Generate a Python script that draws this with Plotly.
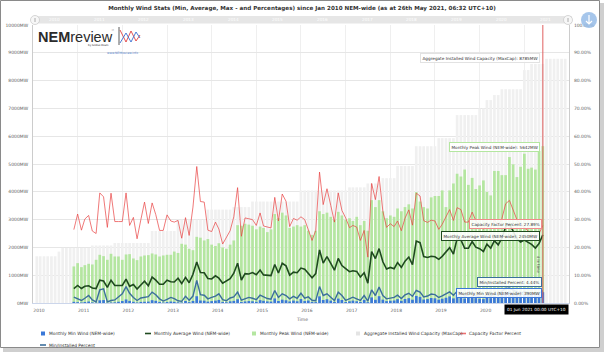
import pandas as pd
import plotly.graph_objects as go

# ---------------- data ----------------
# Monthly values; the chart stamps each month at the first day of the following month.
capacity_start = "2010-02-01"   # Jan 2010 (month-end stamp)
capacity_mw = [
    1680, 1680, 1680, 1680, 1680, 1680, 1850, 1980, 1980, 1980, 1980, 1980, 1980, 1980, 1980,
    2070, 2070, 2070, 2070, 2070, 2070,
    2160, 2160, 2160, 2160, 2160, 2160, 2160, 2160, 2160, 2160,
    2590, 2590, 2590, 2590, 2590, 2590, 2590,
    3000, 3000, 3000, 3000, 3000, 3000, 3000, 3000,
    3360, 3360, 3360, 3360, 3360, 3360, 3360,
    3450, 3450, 3450, 3450, 3450,
    3650, 3650, 3650, 3650, 3650, 3650, 3650, 3650, 3650, 3650, 3650, 3650, 3650,
    4050, 4050, 4050, 4050, 4050, 4050, 4050, 4050, 4050, 4050, 4050, 4050, 4050,
    4160, 4160, 4160, 4160, 4160,
    4300, 4300, 4300, 4300,
    4490, 4490, 4490, 4490,
    4930, 4930, 4930, 4930, 4930,
    5640, 5640, 5640, 5640, 5640, 5640,
    5930, 5930, 5930, 5930, 5930,
    6760, 6760, 6760, 6760, 6760, 6760,
    7000, 7000, 7300, 7300, 7480, 7480,
    7690, 7690, 7690, 7690, 7690, 7690,
    8380, 8380, 8600, 8600, 8600, 8600,
    8785, 8785, 8785, 8785, 8785, 8785,
]

stats_start = "2010-12-01"      # Nov 2010 (month-end stamp) .. May 2021
peak_mw = [
    1315, 1434, 1290, 1362, 1410, 1386, 1554, 1734, 1686, 1554,
    1770, 1674, 1674, 1554, 1746, 1758, 1602, 1542, 1674, 1710,
    1722, 1782, 1746, 1674, 1710, 1734, 1734, 1850, 1800, 2130,
    2100, 1950, 1900, 2380, 2350, 2250, 2300, 2100, 2050, 2150,
    2000, 1950, 2100, 2250, 2800, 2780, 2850, 2820, 2780, 2650,
    2750, 2700, 2550, 2650, 3200, 3050, 3250, 3150, 2700, 2750,
    2800, 2750, 2800, 2600, 2450, 2600, 3300, 3200, 3250, 3100,
    3000, 3280, 3150, 3000, 3050, 2950, 3100, 2800, 2950, 2600,
    3700, 3450, 3700, 3300, 3050, 3150, 3100, 3400, 3300, 3450,
    3550, 3400, 3990, 3650, 3450, 3400, 3800, 3850, 3850, 4050,
    3450, 4050, 4300, 4650, 4550, 4800, 4250, 4500, 4100, 4230,
    4410, 4000, 3870, 4750, 4750, 4600, 4600, 5250, 4990, 4530,
    4900, 5370, 4830, 4870, 4800, 5470, 5642,
]
avg_mw = [
    520, 630, 520, 600, 620, 540, 520, 820, 790, 560,
    820, 630, 630, 630, 855, 600, 665, 500, 648, 784,
    618, 932, 824, 676, 676, 821, 764, 754, 891, 699,
    921, 729, 1035, 1473, 1095, 1089, 880, 864, 978, 894,
    712, 790, 874, 1070, 1432, 828, 1056, 1045, 1095, 1018,
    1183, 1011, 996, 986, 1387, 1077, 1431, 1336, 1004, 1110,
    1088, 1256, 1215, 1061, 911, 1057, 1908, 1434, 1665, 1422,
    1179, 1604, 1349, 1239, 1127, 1161, 1136, 936, 1086, 710,
    1849, 1600, 1957, 1482, 1221, 1280, 1235, 1454, 1282, 1504,
    1652, 1380, 2228, 2171, 1669, 1636, 1681, 1664, 1571, 1678,
    1832, 1992, 1761, 2319, 2271, 1967, 1967, 2211, 2008, 1953,
    1855, 2117, 1971, 2244, 2094, 2330, 2745, 2838, 2584, 2307,
    2192, 2263, 2179, 2107, 1978, 2141, 2450,
]
min_mw = [
    42, 30, 18, 34, 53, 23, 8, 97, 106, 8,
    19, 24, 45, 71, 127, 76, 43, 19, 39, 45,
    50, 101, 78, 39, 18, 34, 52, 41, 24, 18,
    72, 30, 75, 243, 90, 84, 50, 67, 84, 111,
    40, 27, 60, 76, 135, 35, 55, 69, 62, 44,
    102, 80, 58, 51, 164, 73, 120, 99, 55, 88,
    62, 142, 69, 89, 41, 32, 239, 109, 134, 85,
    36, 158, 109, 36, 62, 87, 62, 37, 112, 30,
    202, 116, 245, 121, 67, 81, 90, 138, 79, 143,
    173, 118, 254, 220, 124, 141, 180, 169, 119, 154,
    190, 237, 166, 284, 243, 162, 196, 257, 176, 154,
    140, 219, 175, 254, 209, 320, 400, 410, 350, 300,
    260, 340, 300, 280, 270, 300, 390,
]
cf_pct = [
    26.4, 32.0, 26.2, 30.2, 31.5, 25.9, 25.0, 39.6, 38.2, 27.2,
    39.5, 29.3, 29.3, 29.3, 39.6, 27.9, 30.8, 23.1, 30.0, 36.3,
    28.6, 36.0, 31.8, 26.1, 26.1, 31.7, 29.5, 29.1, 29.7, 23.3,
    30.7, 24.3, 34.5, 49.1, 36.5, 36.3, 26.2, 25.7, 29.1, 26.6,
    21.2, 23.5, 26.0, 31.0, 41.5, 24.0, 30.6, 30.3, 30.0, 27.9,
    32.4, 27.7, 27.3, 27.0, 38.0, 29.5, 39.2, 36.6, 27.5, 30.4,
    29.8, 31.0, 30.0, 26.2, 22.5, 26.1, 47.1, 35.4, 41.1, 35.1,
    29.1, 39.6, 33.3, 30.6, 27.1, 27.9, 27.3, 22.5, 26.1, 16.5,
    43.0, 37.2, 45.5, 33.0, 27.2, 28.5, 27.5, 29.5, 26.0, 30.5,
    33.5, 28.0, 39.5, 38.5, 29.6, 29.0, 29.8, 29.5, 26.5, 28.3,
    30.9, 33.6, 29.7, 34.3, 33.6, 29.1, 29.1, 32.7, 29.7, 27.9,
    26.5, 29.0, 27.0, 30.0, 28.0, 30.3, 35.7, 36.9, 33.6, 30.0,
    28.5, 27.0, 26.0, 24.5, 23.0, 24.9, 27.89,
]
min_pct = [
    2.1, 1.5, 0.9, 1.7, 2.7, 1.1, 0.4, 4.7, 5.1, 0.4,
    0.9, 1.1, 2.1, 3.3, 5.9, 3.5, 2.0, 0.9, 1.8, 2.1,
    2.3, 3.9, 3.0, 1.5, 0.7, 1.3, 2.0, 1.6, 0.8, 0.6,
    2.4, 1.0, 2.5, 8.1, 3.0, 2.8, 1.5, 2.0, 2.5, 3.3,
    1.2, 0.8, 1.8, 2.2, 3.9, 1.0, 1.6, 2.0, 1.7, 1.2,
    2.8, 2.2, 1.6, 1.4, 4.5, 2.0, 3.3, 2.7, 1.5, 2.4,
    1.7, 3.5, 1.7, 2.2, 1.0, 0.8, 5.9, 2.7, 3.3, 2.1,
    0.9, 3.9, 2.7, 0.9, 1.5, 2.1, 1.5, 0.9, 2.7, 0.7,
    4.7, 2.7, 5.7, 2.7, 1.5, 1.8, 2.0, 2.8, 1.6, 2.9,
    3.5, 2.4, 4.5, 3.9, 2.2, 2.5, 3.2, 3.0, 2.0, 2.6,
    3.2, 4.0, 2.8, 4.2, 3.6, 2.4, 2.9, 3.8, 2.6, 2.2,
    2.0, 3.0, 2.4, 3.4, 2.8, 4.2, 5.2, 5.3, 4.6, 3.9,
    3.4, 4.1, 3.6, 3.3, 3.1, 3.5, 4.44,
]
year_labels = ["2010", "2011", "2012", "2013", "2014", "2015", "2016",
               "2017", "2018", "2019", "2020", "2021"]
mw_ticks = [0, 1000, 2000, 3000, 4000, 5000, 6000, 7000, 8000, 9000, 10000]
pct_ticks = [0, 10, 20, 30, 40, 50, 60, 70, 80, 90, 100]

series_names = ["Monthly Min Wind (NEM-wide)", "Monthly Average Wind (NEM-wide)",
                "Monthly Peak Wind (NEM-wide)", "Aggregate Installed Wind Capacity (MaxCap)",
                "Capacity Factor Percent", "Min/Installed Percent"]

assert len(capacity_mw) == 143
for s in (peak_mw, avg_mw, min_mw, cf_pct, min_pct):
    assert len(s) == 127, len(s)

# ---------------- styling ----------------
W, H = 604, 352
L, R, T, B = 33, 35, 25, 49
PW, PH = W - L - R, H - T - B
FONT = "DejaVu Sans"
C_MIN, C_AVG, C_PEAK, C_CAP = "#3a78d8", "#1f4a1f", "#b4e6a0", "#f0f0f0"
C_CF, C_MINP = "rgba(232,64,64,0.7)", "#3b6f9c"


def X(px):
    return (px - L) / PW


def Y(py):
    return (H - B - py) / PH


cap_x = pd.date_range(capacity_start, periods=len(capacity_mw), freq="MS")
st_x = pd.date_range(stats_start, periods=len(peak_mw), freq="MS")
BW = 1.9e9  # bar width in ms

fig = go.Figure()
fig.add_bar(x=cap_x, y=capacity_mw, width=BW, marker_color=C_CAP, marker_line_width=0, name=series_names[3])
fig.add_bar(x=st_x, y=peak_mw, width=BW, marker_color=C_PEAK, marker_line_width=0, name=series_names[2])
fig.add_bar(x=st_x, y=min_mw, width=BW, marker_color=C_MIN, marker_line_width=0, name=series_names[0])
fig.add_scatter(x=st_x, y=avg_mw, mode="lines", line=dict(color=C_AVG, width=1.6), name=series_names[1])
fig.add_scatter(x=st_x, y=cf_pct, mode="lines", yaxis="y2", line=dict(color=C_CF, width=1), name=series_names[4])
fig.add_scatter(x=st_x, y=min_pct, mode="lines", yaxis="y2", line=dict(color=C_MINP, width=1.4), name=series_names[5])

tick_dates = [f"{y}-01-01" for y in year_labels]
tick_text = year_labels[:-1] + [""]

fig.update_layout(
    width=W, height=H, margin=dict(l=L, r=R, t=T, b=B, autoexpand=False),
    paper_bgcolor="white", plot_bgcolor="white", barmode="overlay",
    showlegend=False, hovermode=False,
    font=dict(family=FONT, size=4.5, color="#666666"),
    title=dict(text="<b>Monthly Wind Stats (Min, Average, Max - and Percentages) since Jan 2010 NEM-wide (as at 26th May 2021, 06:32 UTC+10)</b>",
               x=0.5, xref="container", xanchor="center", y=1 - 8 / H, yref="container", yanchor="middle",
               font=dict(family=FONT, size=5.6, color="#333333")),
    xaxis=dict(type="date", range=["2010-01-01", "2022-01-01"], tickvals=tick_dates, ticktext=tick_text,
               showgrid=True, gridcolor="#efefef", gridwidth=1, showline=True, linecolor="#ccd6eb",
               ticks="", tickfont=dict(size=4.5, color="#666"), ticklabelshift=6, ticklabelstandoff=3,
               zeroline=False, fixedrange=True, automargin=False),
    yaxis=dict(range=[0, 10000], tickvals=mw_ticks, ticktext=[f"{v}MW" for v in mw_ticks],
               showgrid=True, gridcolor="#e6e6e6", showline=True, linecolor="#cccccc", zeroline=False,
               ticks="", tickfont=dict(size=4.5, color="#666"), ticklabelstandoff=3, fixedrange=True,
               automargin=False),
    yaxis2=dict(range=[0, 100], overlaying="y", side="right", tickvals=pct_ticks,
                ticktext=[f"{v:.2f}%" for v in pct_ticks], showgrid=False, showline=True,
                linecolor="#cccccc", zeroline=False, ticks="", tickfont=dict(size=4.5, color="#666"),
                ticklabelstandoff=3, fixedrange=True, automargin=False),
)

shapes = []
annos = []

# screenshot frame with shadow
shapes.append(dict(type="rect", xref="paper", yref="paper", x0=X(600), x1=X(604), y0=Y(352), y1=Y(3),
                   fillcolor="#cfcfcf", line_width=0, layer="above"))
shapes.append(dict(type="rect", xref="paper", yref="paper", x0=X(3), x1=X(604), y0=Y(352), y1=Y(348),
                   fillcolor="#cfcfcf", line_width=0, layer="above"))
shapes.append(dict(type="rect", xref="paper", yref="paper", x0=X(0.5), x1=X(599.5), y0=Y(347.5), y1=Y(0.5),
                   line=dict(color="#8a8a8a", width=1), fillcolor="rgba(0,0,0,0)", layer="above"))

# navigator band with handles
shapes.append(dict(type="rect", xref="paper", yref="paper", x0=X(33), x1=X(572), y0=Y(23.5), y1=Y(16),
                   fillcolor="#e6e6e6", line_width=0, layer="below"))
for hx in (35, 568):
    shapes.append(dict(type="circle", xref="paper", yref="paper", x0=X(hx - 4.5), x1=X(hx + 4.5),
                       y0=Y(24.5), y1=Y(15.5), fillcolor="#f7f7f7", line=dict(color="#cccccc", width=0.8)))
    shapes.append(dict(type="line", xref="paper", yref="paper", x0=X(hx), x1=X(hx), y0=Y(22), y1=Y(18),
                       line=dict(color="#999999", width=0.8)))
for i, yl in enumerate(year_labels):
    annos.append(dict(x=f"{yl}-06-25", xref="x", y=Y(19.8), yref="paper", text=yl, showarrow=False,
                      font=dict(size=4.2, color="#ffffff"), xanchor="center", yanchor="middle"))

# download button
shapes.append(dict(type="circle", xref="paper", yref="paper", x0=X(581), x1=X(597), y0=Y(28), y1=Y(12),
                   fillcolor="rgba(150,188,232,0.85)", line_width=0, layer="above"))
shapes.append(dict(type="path", xref="paper", yref="paper", layer="above",
                   path=f"M {X(589)} {Y(15)} L {X(589)} {Y(24)} M {X(586)} {Y(21)} L {X(589)} {Y(24)} L {X(592)} {Y(21)}",
                   line=dict(color="white", width=1.2)))

# "now" line and its label
shapes.append(dict(type="line", xref="x", yref="paper", x0="2021-06-01", x1="2021-06-01", y0=0, y1=1.0,
                   line=dict(color="#e06060", width=1), layer="above"))
annos.append(dict(x=X(539), xref="paper", y=Y(265), yref="paper", text="d in time", textangle=90,
                  showarrow=False, font=dict(size=3.8, color="#555"), xanchor="center", yanchor="middle"))

# logo
annos.append(dict(x=X(36), xref="paper", y=Y(37), yref="paper", text="<b>NEM</b>review", showarrow=False,
                  font=dict(family="Liberation Sans", size=14.5, color="#2b2b2b"), xanchor="left", yanchor="middle"))
annos.append(dict(x=X(109), xref="paper", y=Y(31), yref="paper", text="™", showarrow=False,
                  font=dict(size=3.5, color="#333"), xanchor="left", yanchor="middle"))
annos.append(dict(x=X(111), xref="paper", y=Y(46), yref="paper", text="by Global-Roam", showarrow=False,
                  font=dict(size=2.6, color="#333"), xanchor="right", yanchor="middle"))
annos.append(dict(x=X(122), xref="paper", y=Y(52.5), yref="paper", text="www.NEMreview.info", showarrow=False,
                  font=dict(size=3, color="#4a78c8"), xanchor="center", yanchor="middle"))
shapes.append(dict(type="line", xref="paper", yref="paper", x0=X(119), x1=X(119), y0=Y(45), y1=Y(27),
                   line=dict(color="#333", width=0.8)))
shapes.append(dict(type="path", xref="paper", yref="paper",
                   path=f"M {X(120)} {Y(30)} L {X(126)} {Y(42)} L {X(131)} {Y(31)} L {X(136)} {Y(41)} L {X(140)} {Y(35)}",
                   line=dict(color="#e04040", width=0.9)))
shapes.append(dict(type="path", xref="paper", yref="paper",
                   path=f"M {X(120)} {Y(43)} L {X(126)} {Y(33)} L {X(131)} {Y(42)} L {X(136)} {Y(32)} L {X(140)} {Y(38)}",
                   line=dict(color="#3a6fd0", width=0.9)))

# tooltip boxes at the last point
tips = [
    ("Aggregate Installed Wind Capacity (MaxCap): 8785MW", 57.5, "#e2e2e2", 540),
    ("Monthly Peak Wind (NEM-wide): 5642MW", 146.5, C_PEAK, 540),
    ("Capacity Factor Percent: 27.89%", 224, "#f08a8a", 542),
    ("Monthly Average Wind (NEM-wide): 2450MW", 235.5, C_AVG, 540),
    ("Min/Installed Percent: 4.44%", 282, C_MINP, 542),
    ("Monthly Min Wind (NEM-wide): 390MW", 293, C_MIN, 542),
]
for txt, py, col, rx in tips:
    annos.append(dict(x=X(rx), xref="paper", y=Y(py), yref="paper", text=txt, showarrow=False,
                      font=dict(size=4.2, color="#333"), xanchor="right", yanchor="middle",
                      bgcolor="rgba(255,255,255,0.88)", bordercolor=col, borderwidth=1, borderpad=1.5))
annos.append(dict(x=X(536), xref="paper", y=Y(309.5), yref="paper", text="01 Jun 2021 00:00 UTC+10",
                  showarrow=False, font=dict(size=4.3, color="white"), xanchor="center", yanchor="middle",
                  bgcolor="black", borderpad=2))

# x axis title below the tick labels
annos.append(dict(x=X(302), xref="paper", y=Y(319), yref="paper", text="Time", showarrow=False,
                  font=dict(size=4.5, color="#666"), xanchor="center", yanchor="middle"))

# legend (drawn manually to match the compact layout)
legend_items = [
    (series_names[0], "bar", C_MIN, 43, 333.5),
    (series_names[1], "line", C_AVG, 148, 333.5),
    (series_names[2], "bar", C_PEAK, 254, 333.5),
    (series_names[3], "bar", "#e4e4e4", 358, 333.5),
    (series_names[4], "line", "#ee7070", 463, 333.5),
    (series_names[5], "line", C_MINP, 43, 345),
]
for name, kind, col, cx, cy in legend_items:
    if kind == "bar":
        shapes.append(dict(type="rect", xref="paper", yref="paper", x0=X(cx - 2), x1=X(cx + 2),
                           y0=Y(cy + 2), y1=Y(cy - 2), fillcolor=col, line_width=0))
    else:
        shapes.append(dict(type="line", xref="paper", yref="paper", x0=X(cx - 3), x1=X(cx + 3),
                           y0=Y(cy), y1=Y(cy), line=dict(color=col, width=1.6)))
    annos.append(dict(x=X(cx + 3.5), xref="paper", y=Y(cy), yref="paper", text=name, showarrow=False,
                      font=dict(size=4.4, color="#333"), xanchor="left", yanchor="middle"))

fig.update_layout(shapes=shapes, annotations=annos)
fig.write_html("out.html", include_plotlyjs=True, config={"displayModeBar": False, "staticPlot": True})
